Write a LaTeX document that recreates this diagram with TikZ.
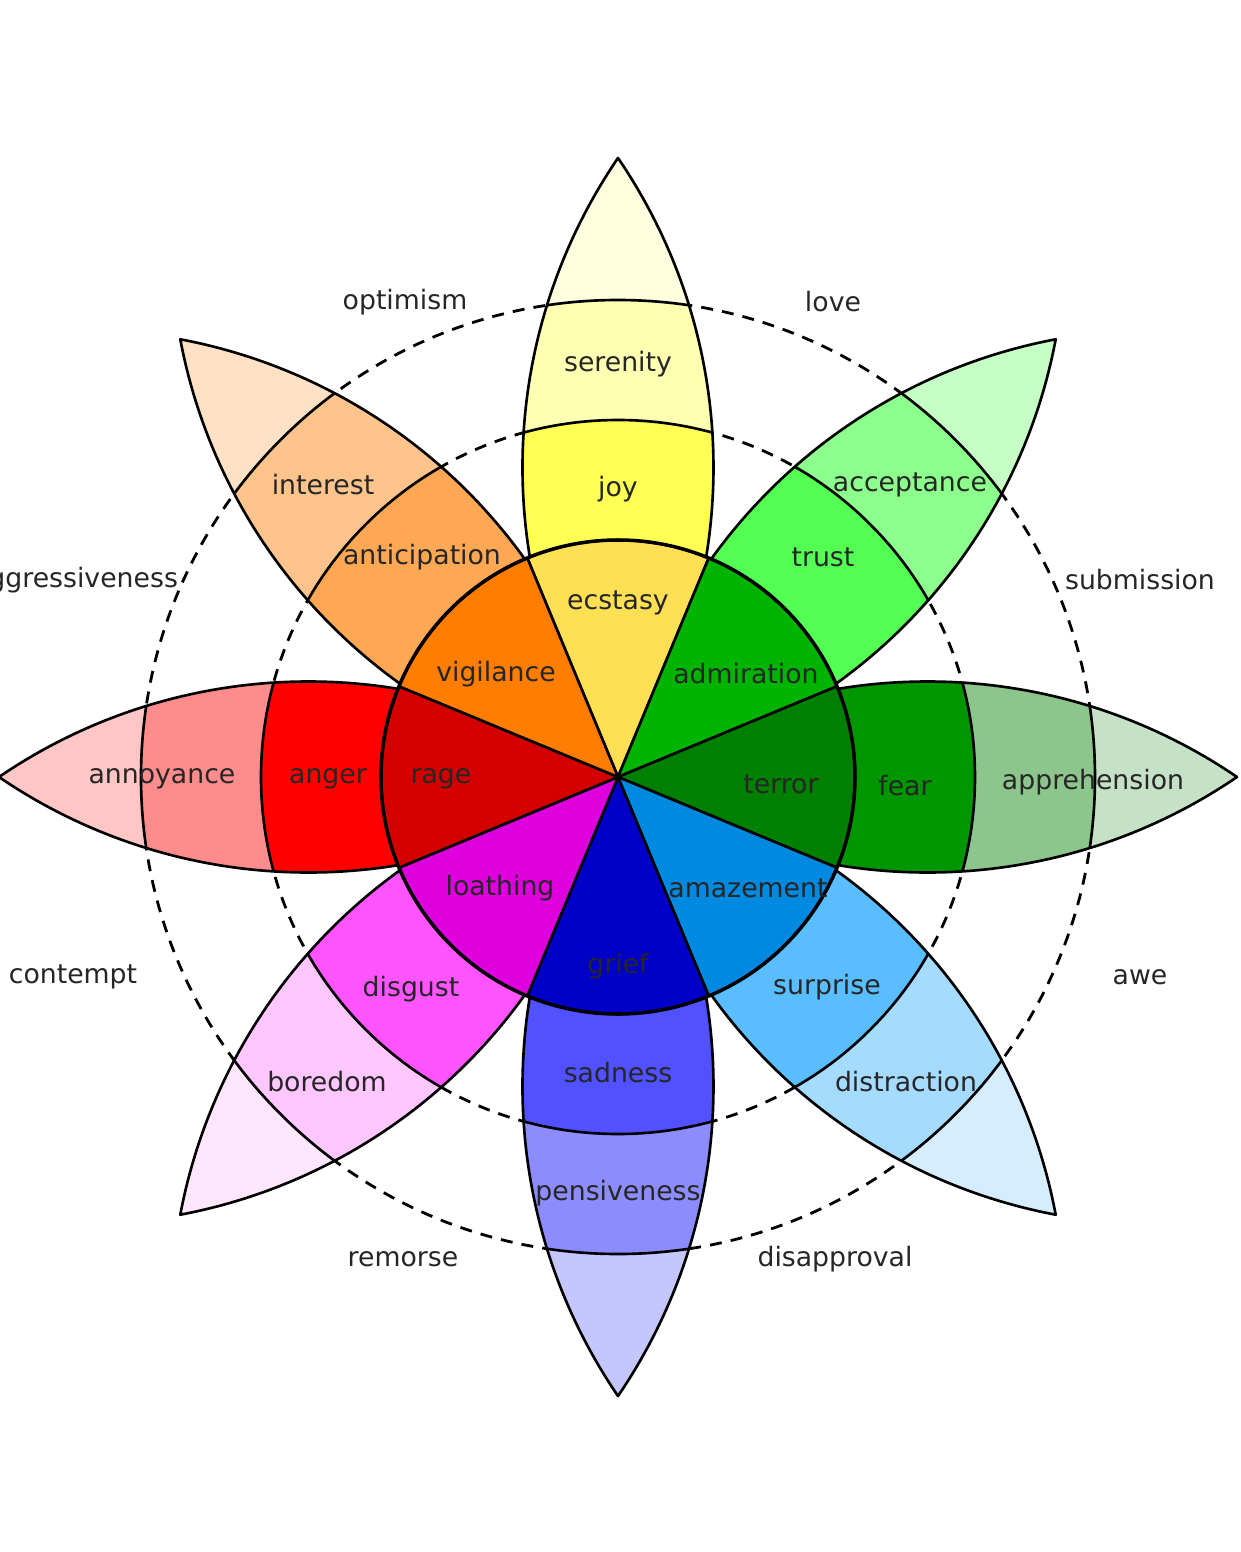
\documentclass[tikz,border=0pt]{standalone}
\usepackage{fontspec}
\setmainfont{DejaVu Sans}
\usepackage{tikz}
\usetikzlibrary{positioning}

% petal colours: tip / light / mid / core
\definecolor{yellowtip}{HTML}{FFFFE0}\definecolor{yellowlight}{HTML}{FFFFB1}
\definecolor{yellowmid}{HTML}{FFFF54}\definecolor{yellowcore}{HTML}{FFE054}
\definecolor{limetip}{HTML}{C6FFC6}\definecolor{limelight}{HTML}{8CFF8C}
\definecolor{limemid}{HTML}{54FF54}\definecolor{limecore}{HTML}{00B400}
\definecolor{greentip}{HTML}{C6E2C6}\definecolor{greenlight}{HTML}{8CC68C}
\definecolor{greenmid}{HTML}{009600}\definecolor{greencore}{HTML}{008000}
\definecolor{skytip}{HTML}{D6ECFF}\definecolor{skylight}{HTML}{A5DBFF}
\definecolor{skymid}{HTML}{59BDFF}\definecolor{skycore}{HTML}{0089E0}
\definecolor{bluetip}{HTML}{C6C6FF}\definecolor{bluelight}{HTML}{8C8CFF}
\definecolor{bluemid}{HTML}{5151FF}\definecolor{bluecore}{HTML}{0000C8}
\definecolor{pinktip}{HTML}{FFE6FF}\definecolor{pinklight}{HTML}{FFC6FF}
\definecolor{pinkmid}{HTML}{FF54FF}\definecolor{pinkcore}{HTML}{DE00DE}
\definecolor{redtip}{HTML}{FFC6C6}\definecolor{redlight}{HTML}{FF8C8C}
\definecolor{redmid}{HTML}{FF0000}\definecolor{redcore}{HTML}{D40000}
\definecolor{orangetip}{HTML}{FFE1C6}\definecolor{orangelight}{HTML}{FFC48C}
\definecolor{orangemid}{HTML}{FFA854}\definecolor{orangecore}{HTML}{FF7D00}

\newcommand{\wheelfont}{\fontsize{7.6}{9}\selectfont}
\def\rone{2.37}
\def\rtwo{3.57}
\def\rthree{4.77}
\def\lens{(0,0) arc[start angle=124.3, end angle=55.7, radius=5.4927] arc[start angle=-55.7, end angle=-124.3, radius=5.4927] -- cycle}

\tikzset{
  petalline/.style={draw=black, line width=0.75pt, line join=round},
  ringline/.style={draw=black, line width=0.8pt, dash pattern=on 3.4pt off 2.6pt},
  emotion/.style={font=\wheelfont, text=black!85, inner sep=1pt, yshift=-0.4mm},
  dyad/.style={font=\wheelfont, text=black!85, inner sep=1pt, yshift=-0.2mm}
}

\begin{document}
\begin{tikzpicture}
  \useasboundingbox (-6.18,-7.75) rectangle (6.22,7.77);

  % dashed rings behind the petals
  \draw[ringline] (0,0) circle (\rtwo);
  \draw[ringline] (0,0) circle (\rthree);

  % petals
  \foreach \a/\ct/\cl/\cm in {90/yellowtip/yellowlight/yellowmid, 45/limetip/limelight/limemid,
      0/greentip/greenlight/greenmid, -45/skytip/skylight/skymid, -90/bluetip/bluelight/bluemid,
      -135/pinktip/pinklight/pinkmid, 180/redtip/redlight/redmid, 135/orangetip/orangelight/orangemid} {
    \begin{scope}[rotate=\a]
      \begin{scope}
        \clip \lens;
        \fill[\ct] (0,0) circle (6.4);
        \fill[\cl] (0,0) circle (\rthree);
        \fill[\cm] (0,0) circle (\rtwo);
        \draw[petalline] (0,0) circle (\rtwo) (0,0) circle (\rthree);
      \end{scope}
      \draw[petalline] \lens;
    \end{scope}
  }

  % inner sectors
  \foreach \a/\cc in {90/yellowcore, 45/limecore, 0/greencore, -45/skycore,
      -90/bluecore, -135/pinkcore, 180/redcore, 135/orangecore}
    \filldraw[petalline, fill=\cc] (0,0) -- (\a-22.5:\rone)
      arc[start angle=\a-22.5, end angle=\a+22.5, radius=\rone] -- cycle;
  \draw[black, line width=1pt] (0,0) circle (\rone);

  % emotions
  \node[emotion] (serenity) at (0,4.17) {serenity};
  \node[emotion] (joy) at (0,2.92) {joy};
  \node[emotion] (ecstasy) at (0,1.78) {ecstasy};
  \node[emotion] (acceptance) at (2.92,2.96) {acceptance};
  \node[emotion] (trust) at (2.05,2.24) {trust};
  \node[emotion] (admiration) at (1.28,1.07) {admiration};
  \node[emotion] (apprehension) at (4.75,-0.01) {apprehension};
  \node[emotion] (fear) at (2.87,-0.05) {fear};
  \node[emotion] (terror) at (1.63,-0.03) {terror};
  \node[emotion] (distraction) at (2.88,-3.01) {distraction};
  \node[emotion] (surprise) at (2.09,-2.06) {surprise};
  \node[emotion] (amazement) at (1.30,-1.07) {amazement};
  \node[emotion] (pensiveness) at (0,-4.12) {pensiveness};
  \node[emotion] (sadness) at (0,-2.92) {sadness};
  \node[emotion] (grief) at (0,-1.85) {grief};
  \node[emotion] (boredom) at (-2.91,-3.01) {boredom};
  \node[emotion] (disgust) at (-2.07,-2.08) {disgust};
  \node[emotion] (loathing) at (-1.18,-1.07) {loathing};
  \node[emotion] (annoyance) at (-4.56,0.02) {annoyance};
  \node[emotion] (anger) at (-2.90,0.02) {anger};
  \node[emotion] (rage) at (-1.77,0.02) {rage};
  \node[emotion] (interest) at (-2.95,2.96) {interest};
  \node[emotion] (anticipation) at (-1.96,2.24) {anticipation};
  \node[emotion] (vigilance) at (-1.22,1.07) {vigilance};

  % dyads
  \node[dyad] (optimism) at (-2.13,4.77) {optimism};
  \node[dyad] (love) at (2.15,4.77) {love};
  \node[dyad] (submission) at (5.22,1.99) {submission};
  \node[dyad] (awe) at (5.22,-1.98) {awe};
  \node[dyad] (disapproval) at (2.17,-4.80) {disapproval};
  \node[dyad] (remorse) at (-2.15,-4.80) {remorse};
  \node[dyad] (contempt) at (-5.45,-1.98) {contempt};
  \node[dyad] (aggressiveness) at (-5.43,1.99) {aggressiveness};
\end{tikzpicture}
\end{document}
